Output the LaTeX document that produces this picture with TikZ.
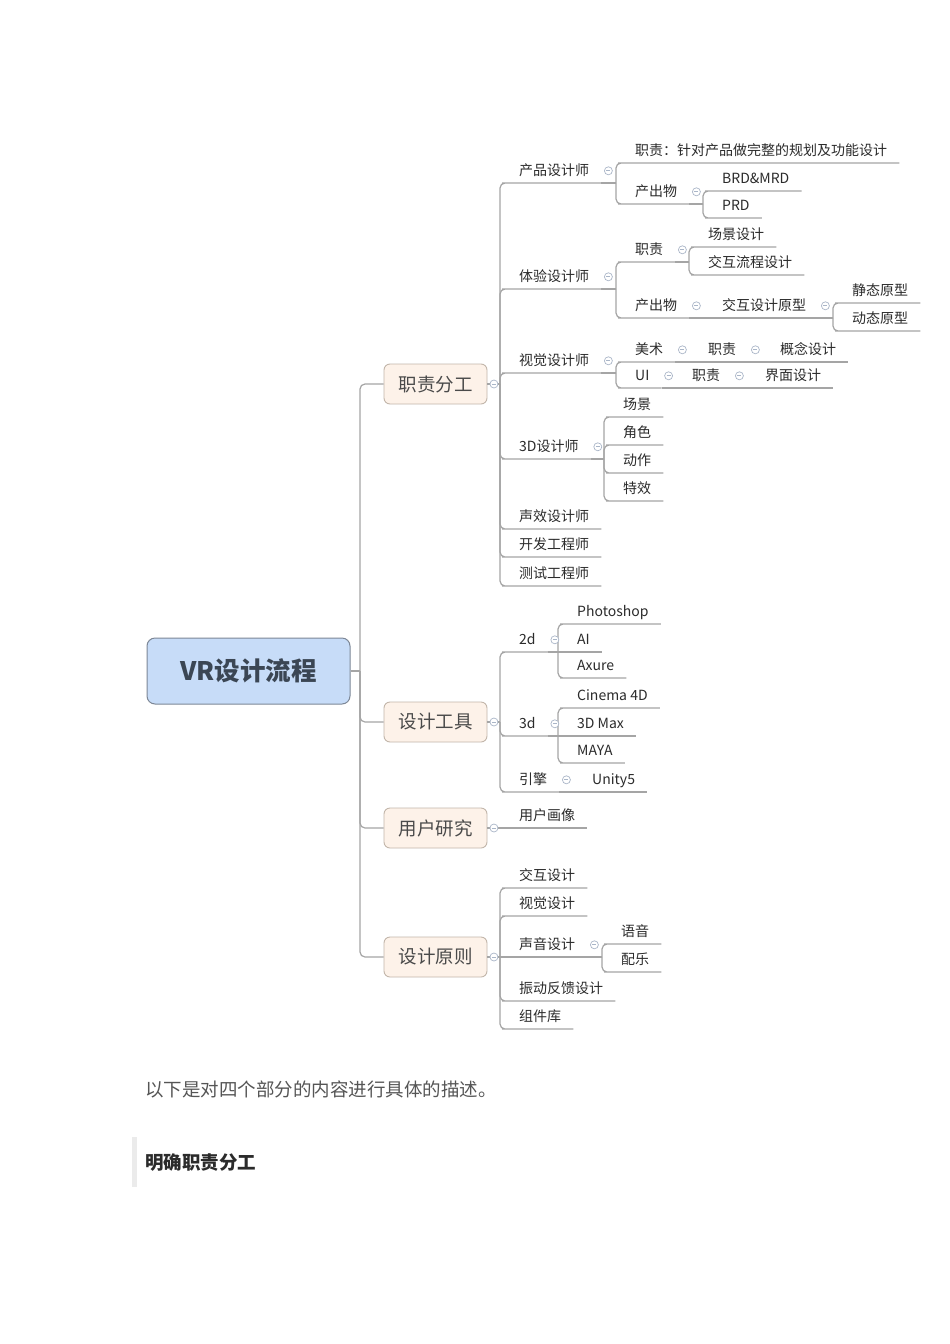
\documentclass[tikz,border=0pt]{standalone}
\usepackage{fontspec}
\usepackage{xcolor}
\newfontfamily\cjk{Noto Sans CJK SC}
\definecolor{linec}{HTML}{A5A5A5}
\definecolor{txt}{HTML}{2B2B2B}
\definecolor{boxtxt}{HTML}{4A4A4A}
\definecolor{roottxt}{HTML}{3B4654}
\definecolor{rootfill}{HTML}{C7DCF8}
\definecolor{rootline}{HTML}{7D8796}
\definecolor{boxfill}{HTML}{FDF2E9}
\definecolor{boxline}{HTML}{C2B6AA}
\definecolor{foldc}{HTML}{AAB6C8}
\definecolor{introtxt}{HTML}{555555}
\definecolor{quotebar}{HTML}{EBEBEB}

\tikzset{
  branch/.style={draw=linec, line width=1.2pt},
  spine/.style={branch, rounded corners=5pt},
  centre/.style={rectangle, rounded corners=8pt, draw=rootline, fill=rootfill, line width=1pt,
    minimum width=203pt, minimum height=66pt, text=roottxt,
    font=\cjk\bfseries\fontsize{25.5pt}{28pt}\selectfont},
  mainbox/.style={rectangle, rounded corners=6pt, draw=boxline, fill=boxfill, line width=0.9pt,
    minimum width=103pt, minimum height=40pt, text=boxtxt,
    font=\cjk\fontsize{18.5pt}{20pt}\selectfont},
  topic/.style={anchor=south west, inner xsep=12pt, inner ysep=7pt, text height=10pt,
    text depth=0pt, text=txt, font=\cjk\fontsize{14pt}{16pt}\selectfont},
  fold/.pic={\draw[foldc, fill=white, line width=0.7pt] (0,0) circle (4pt);
    \draw[foldc, line width=0.7pt] (-2pt,0) -- (2pt,0);}
}

\begin{document}
\begin{tikzpicture}[x=1pt, y=-1pt]
    % Page
    \fill[white] (0,0) rectangle (950,1344);
    \useasboundingbox (0,0) rectangle (950,1344);

    % Central topic and the four main branches
    \node[centre] (vr) at (248.5,671) {VR设计流程};
    \node[mainbox] (zz) at (435.5,384) {职责分工};
    \node[mainbox] (gj) at (435.5,722) {设计工具};
    \node[mainbox] (yj) at (435.5,828) {用户研究};
    \node[mainbox] (yz) at (435.5,957) {设计原则};
    \coordinate (vrj) at (360,671);
    \draw[branch] (vr.east) -- (vrj);
    \foreach \m in {zz,gj,yj,yz} \draw[spine] (vrj) |- (\m.west);

    % 职责分工
    \node[topic] (cp) at (507,183) {产品设计师};
    \node[topic] (ty) at (507,289) {体验设计师};
    \node[topic] (sj) at (507,373) {视觉设计师};
    \node[topic] (sd) at (507,459) {3D设计师};
    \node[topic] (sx) at (507,529) {声效设计师};
    \node[topic] (kf) at (507,557) {开发工程师};
    \node[topic] (cs) at (507,586) {测试工程师};
    \coordinate (zzj) at (500,384);
    \draw[branch] (zz.east) -- (zzj);
    \foreach \c in {cp,ty,sj,sd,sx,kf,cs} \draw[spine] (zzj) |- (\c.south west) -- (\c.south east);

    % 产品设计师
    \node[topic] (cpzz) at (623,163) {职责：针对产品做完整的规划及功能设计};
    \node[topic] (cpcc) at (623,204) {产出物};
    \node[topic] (brd) at (710,191) {BRD\&MRD};
    \node[topic] (prd) at (710,218) {PRD};
    \coordinate (cpj) at (616,183);
    \coordinate (cpccj) at (703,204);
    \draw[branch] (cp.south east) -- (cpj);
    \foreach \c in {cpzz,cpcc} \draw[spine] (cpj) |- (\c.south west) -- (\c.south east);
    \draw[branch] (cpcc.south east) -- (cpccj);
    \foreach \c in {brd,prd} \draw[spine] (cpccj) |- (\c.south west) -- (\c.south east);

    % 体验设计师
    \node[topic] (tyzz) at (623,262) {职责};
    \node[topic] (tycc) at (623,318) {产出物};
    \node[topic] (cjsj) at (696,247) {场景设计};
    \node[topic] (jhlc) at (696,275) {交互流程设计};
    \node[topic] (jhyx) at (710,318) {交互设计原型};
    \node[topic] (jtyx) at (840,303) {静态原型};
    \node[topic] (dtyx) at (840,331) {动态原型};
    \coordinate (tyj) at (616,289);
    \coordinate (tyzzj) at (689,262);
    \coordinate (jhyxj) at (833,318);
    \draw[branch] (ty.south east) -- (tyj);
    \foreach \c in {tyzz,tycc} \draw[spine] (tyj) |- (\c.south west) -- (\c.south east);
    \draw[branch] (tyzz.south east) -- (tyzzj);
    \foreach \c in {cjsj,jhlc} \draw[spine] (tyzzj) |- (\c.south west) -- (\c.south east);
    \draw[branch] (tycc.south east) -- (jhyx.south west) -- (jhyx.south east) -- (jhyxj);
    \foreach \c in {jtyx,dtyx} \draw[spine] (jhyxj) |- (\c.south west) -- (\c.south east);

    % 视觉设计师
    \node[topic] (ms) at (623,362) {美术};
    \node[topic] (mszz) at (696,362) {职责};
    \node[topic] (gn) at (768,362) {概念设计};
    \node[topic] (ui) at (623,388) {UI};
    \node[topic] (uizz) at (680,388) {职责};
    \node[topic] (jm) at (753,388) {界面设计};
    \coordinate (sjj) at (616,373);
    \draw[branch] (sj.south east) -- (sjj);
    \foreach \c in {ms,ui} \draw[spine] (sjj) |- (\c.south west) -- (\c.south east);
    \draw[branch] (ms.south east) -- (mszz.south west) -- (mszz.south east) -- (gn.south west) -- (gn.south east);
    \draw[branch] (ui.south east) -- (uizz.south west) -- (uizz.south east) -- (jm.south west) -- (jm.south east);

    % 3D设计师
    \node[topic] (cj) at (611,417) {场景};
    \node[topic] (js) at (611,445) {角色};
    \node[topic] (dz) at (611,473) {动作};
    \node[topic] (tx) at (611,501) {特效};
    \coordinate (sdj) at (604,459);
    \draw[branch] (sd.south east) -- (sdj);
    \foreach \c in {cj,js,dz,tx} \draw[spine] (sdj) |- (\c.south west) -- (\c.south east);

    % 设计工具
    \node[topic] (d2) at (507,652) {2d};
    \node[topic] (d3) at (507,736) {3d};
    \node[topic] (yq) at (507,792) {引擎};
    \node[topic] (ps) at (565,624) {Photoshop};
    \node[topic] (ai) at (565,652) {AI};
    \node[topic] (ax) at (565,678) {Axure};
    \node[topic] (c4) at (565,708) {Cinema 4D};
    \node[topic] (mx) at (565,736) {3D Max};
    \node[topic] (my) at (565,763) {MAYA};
    \node[topic] (un) at (580,792) {Unity5};
    \coordinate (gjj) at (500,722);
    \coordinate (d2j) at (558,652);
    \coordinate (d3j) at (558,736);
    \draw[branch] (gj.east) -- (gjj);
    \foreach \c in {d2,d3,yq} \draw[spine] (gjj) |- (\c.south west) -- (\c.south east);
    \draw[branch] (d2.south east) -- (d2j) -- (ai.south west) -- (ai.south east);
    \foreach \c in {ps,ax} \draw[spine] (d2j) |- (\c.south west) -- (\c.south east);
    \draw[branch] (d3.south east) -- (d3j) -- (mx.south west) -- (mx.south east);
    \foreach \c in {c4,my} \draw[spine] (d3j) |- (\c.south west) -- (\c.south east);
    \draw[branch] (yq.south east) -- (un.south west) -- (un.south east);

    % 用户研究
    \node[topic] (hx) at (507,828) {用户画像};
    \draw[branch] (yj.east) -- (hx.south west) -- (hx.south east);

    % 设计原则
    \node[topic] (jhsj) at (507,888) {交互设计};
    \node[topic] (sjsj) at (507,916) {视觉设计};
    \node[topic] (sysj) at (507,957) {声音设计};
    \node[topic] (zdfk) at (507,1001) {振动反馈设计};
    \node[topic] (zjk) at (507,1029) {组件库};
    \node[topic] (yy) at (609,944) {语音};
    \node[topic] (pl) at (609,972) {配乐};
    \coordinate (yzj) at (500,957);
    \coordinate (sysjj) at (602,957);
    \draw[branch] (yz.east) -- (yzj) -- (sysj.south west) -- (sysj.south east) -- (sysjj);
    \foreach \c in {jhsj,sjsj,zdfk,zjk} \draw[spine] (yzj) |- (\c.south west) -- (\c.south east);
    \foreach \c in {yy,pl} \draw[spine] (sysjj) |- (\c.south west) -- (\c.south east);

    % Collapse markers
    \foreach \n in {cp,cpcc,ty,tyzz,tycc,jhyx,sj,ms,mszz,ui,uizz,sd,d2,d3,yq,sysj}
        \pic at ([xshift=7pt]\n.east) {fold};
    \foreach \m in {zz,gj,yj,yz}
        \pic at ([xshift=6.5pt]\m.east) {fold};

    % Text below the map
    \node[anchor=west, inner sep=0pt, text=introtxt, font=\cjk\fontsize{18.5pt}{20pt}\selectfont]
        (intro) at (145,1089) {以下是对四个部分的内容进行具体的描述。};
    \fill[quotebar] (132,1137) rectangle (137,1187);
    \node[anchor=west, inner sep=0pt, text=txt, font=\cjk\bfseries\fontsize{18.5pt}{20pt}\selectfont]
        (head) at (145,1163) {明确职责分工};
\end{tikzpicture}
\end{document}
